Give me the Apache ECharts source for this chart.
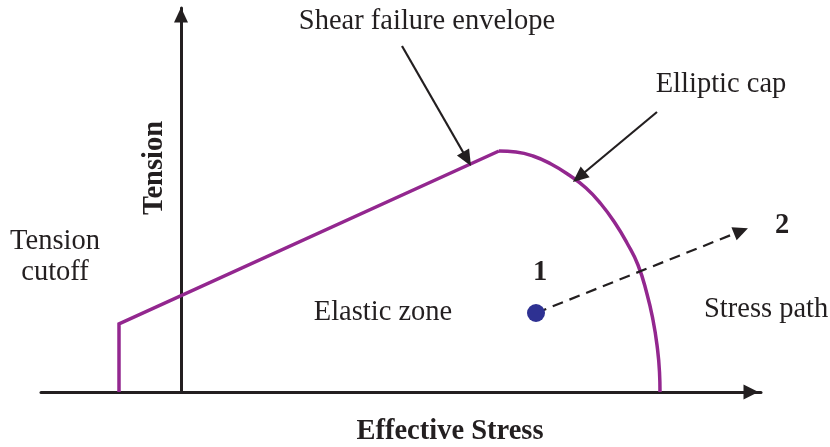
<!DOCTYPE html>
<html>
<head>
<meta charset="utf-8">
<script src="https://cdn.jsdelivr.net/npm/echarts@6/dist/echarts.min.js"></script>
<style>html,body{margin:0;padding:0;background:#fff;}#c{width:830px;height:447px;}</style>
</head>
<body>
<div id="c"></div>
<script>
// Shear failure envelope with tension cutoff (x: effective stress, y: tension)
const envX = [-62, -62, 318];
const envY = [0, 68, 241];
// Elliptic cap points
const capX = [318, 335, 352, 370, 388, 405, 420, 434, 446, 457, 466, 472, 476, 478.5, 479];
const capY = [241, 240, 236, 228, 217, 204, 188, 169, 149, 127, 98, 72, 47, 20, 0];
// Stress state 1 and stress path end 2
const pointX = [355];
const pointY = [79];
const pathEndX = [560];
const pathEndY = [161];
// Annotation arrows [fromX, fromY, toX, toY]
const shearArrow = [221, 346, 286, 233];
const capArrow = [476, 280, 398, 215];

const purple = '#93278f';
const ink = '#231f20';
const serif = '"Liberation Serif", "Times New Roman", serif';
const FS = 28.5;

const chart = echarts.init(document.getElementById('c'), null, {renderer: 'canvas'});

function txt(text, x, y, opts) {
  return Object.assign({
    type: 'text', x: x, y: y,
    style: Object.assign({
      text: text, fill: ink, font: FS + 'px ' + serif,
      textAlign: 'center', textVerticalAlign: 'middle'
    }, opts && opts.style || {})
  }, opts && opts.el || {});
}

chart.setOption({
  animation: false,
  grid: {left: 41, right: 69, top: 8, bottom: 55, containLabel: false},
  xAxis: {
    type: 'value', min: -140, max: 580,
    axisLine: {show: true, onZero: false, symbol: ['none', 'triangle'], symbolSize: [15, 15], symbolOffset: [0, -10],
      lineStyle: {color: ink, width: 3}},
    axisTick: {show: false}, axisLabel: {show: false}, splitLine: {show: false}
  },
  yAxis: {
    type: 'value', min: 0, max: 384,
    axisLine: {show: true, onZero: true, symbol: ['none', 'triangle'], symbolSize: [14, 15], symbolOffset: [0, -7],
      lineStyle: {color: ink, width: 3}},
    axisTick: {show: false}, axisLabel: {show: false}, splitLine: {show: false}
  },
  series: [
    {
      type: 'line', name: 'envelope',
      data: envX.map((x, i) => [x, envY[i]]),
      showSymbol: false, symbol: 'none',
      lineStyle: {color: purple, width: 3.5, join: 'miter'},
      z: 3
    },
    {
      type: 'line', name: 'cap', smooth: 0.5,
      data: capX.map((x, i) => [x, capY[i]]),
      showSymbol: false, symbol: 'none',
      lineStyle: {color: purple, width: 3.5},
      z: 3
    },
    {
      type: 'scatter', name: 'state',
      data: pointX.map((x, i) => [x, pointY[i]]),
      symbolSize: 18,
      itemStyle: {color: '#2e3192', opacity: 1},
      z: 5,
      markLine: {
        silent: true,
        label: {show: false},
        animation: false,
        data: [
          [
            {coord: [pointX[0], pointY[0]], symbol: 'none'},
            {coord: [pathEndX[0], pathEndY[0]], symbol: 'triangle', symbolSize: [14, 15]}
          ],
          [
            {coord: [shearArrow[0], shearArrow[1]], symbol: 'none'},
            {coord: [shearArrow[2], shearArrow[3]], symbol: 'triangle', symbolSize: [14, 16]}
          ],
          [
            {coord: [capArrow[0], capArrow[1]], symbol: 'none'},
            {coord: [capArrow[2], capArrow[3]], symbol: 'triangle', symbolSize: [14, 16]}
          ]
        ].map((d, i) => {
          d[0].lineStyle = i === 0
            ? {color: ink, width: 2.2, type: [11, 7]}
            : {color: ink, width: 2.2, type: 'solid'};
          return d;
        })
      }
    }
  ],
  graphic: [
    txt('Shear failure envelope', 427, 22),
    txt('Elliptic cap', 721, 85),
    txt('Tension\ncutoff', 55, 257, {style: {lineHeight: 31}}),
    txt('Tension', 155, 168, {style: {font: 'bold ' + FS + 'px ' + serif}, el: {rotation: Math.PI / 2}}),
    txt('Elastic zone', 383, 313),
    txt('Stress path', 704, 310, {style: {textAlign: 'left'}}),
    txt('1', 540, 273, {style: {font: 'bold ' + FS + 'px ' + serif}}),
    txt('2', 782, 226, {style: {font: 'bold ' + FS + 'px ' + serif}}),
    txt('Effective Stress', 450, 432, {style: {font: 'bold ' + FS + 'px ' + serif}})
  ]
});
</script>
</body>
</html>
